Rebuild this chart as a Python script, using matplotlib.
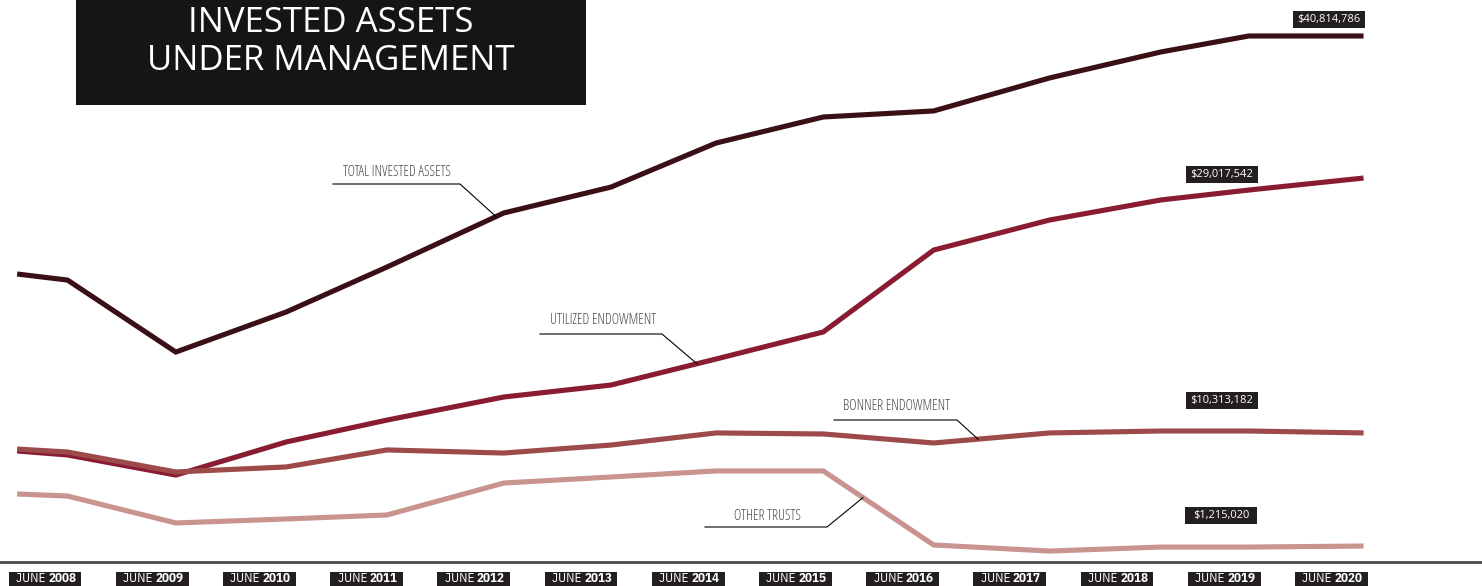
import os
import numpy as np
import matplotlib
matplotlib.use("Agg")
import matplotlib.pyplot as plt
from matplotlib.patches import Rectangle
from matplotlib import font_manager as fm
from matplotlib.font_manager import FontProperties

# ---------------- data (millions of dollars) ----------------
x_years = [2007.74, 2008.21, 2009.22, 2010.25, 2011.19, 2012.28, 2013.28,
           2014.26, 2015.26, 2016.29, 2017.37, 2018.41, 2019.23, 2020.30]
total_invested = [22.36, 21.89, 16.30, 19.41, 22.90, 27.10, 29.11,
                  32.53, 34.55, 35.02, 37.58, 39.60, 40.84, 40.84]
utilized_endowment = [8.62, 8.31, 6.75, 9.32, 11.02, 12.81, 13.74,
                      15.76, 17.86, 24.22, 26.55, 28.11, 28.88, 29.81]
bonner_endowment = [8.77, 8.54, 6.99, 7.38, 8.70, 8.46, 9.08,
                    10.02, 9.94, 9.24, 10.02, 10.17, 10.17, 10.02]
other_trusts = [5.28, 5.12, 3.03, 3.34, 3.65, 6.13, 6.60,
                7.07, 7.07, 1.32, 0.85, 1.16, 1.16, 1.24]
tick_years = [2008, 2009, 2010, 2011, 2012, 2013, 2014,
              2015, 2016, 2017, 2018, 2019, 2020]
series_names = ["TOTAL INVESTED ASSETS", "UTILIZED ENDOWMENT",
                "BONNER ENDOWMENT", "OTHER TRUSTS"]
end_labels = ["$40,814,786", "$29,017,542", "$10,313,182", "$1,215,020"]
title_lines = ["INVESTED ASSETS", "UNDER MANAGEMENT"]

# ---------------- fonts ----------------
_paths = {os.path.basename(f.fname): f.fname for f in fm.fontManager.ttflist}


def font(size, *files, family="DejaVu Sans", weight="normal"):
    for n in files:
        if n in _paths:
            p = FontProperties(fname=_paths[n])
            p.set_size(size)
            return p
    return FontProperties(family=family, weight=weight, size=size)


f_ann = font(10.2, "OpenSans-CondLight.ttf", "IBMPlexSansCondensed-Light.ttf",
             "IBMPlexSansCondensed-Regular.ttf")
f_tick = font(9.4, "IBMPlexSansCondensed-Regular.ttf", "OpenSans-CondLight.ttf")
f_tick_b = font(9.4, "IBMPlexSansCondensed-Bold.ttf", "OpenSans-CondBold.ttf",
                weight="bold")
f_val = font(8.0, "OpenSans-Regular.ttf", "OpenSans[wdth,wght].ttf")
f_title = font(25, "OpenSans-Regular.ttf", "OpenSans[wdth,wght].ttf")

# ---------------- styling ----------------
colors = ["#3a1016", "#8a1c32", "#9d4a4b", "#c9938f"]
W, H = 1482, 586

fig = plt.figure(figsize=(W / 100, H / 100), dpi=100)
ax = fig.add_axes([0, 0, 1, 1])
ax.set_axis_off()

# pixel <-> data mapping for layout
px_per_year = 107.2
x0_year = 2008 - 45 / px_per_year
px_per_m = 12.88
y_zero_px = 562.0
ax.set_xlim(x0_year, x0_year + W / px_per_year)
ax.set_ylim((y_zero_px - H) / px_per_m, y_zero_px / px_per_m)


def PX(px):
    return x0_year + px / px_per_year


def PY(py):
    return (y_zero_px - py) / px_per_m


series = [total_invested, utilized_endowment, bonner_endowment, other_trusts]
for vals, c in zip(series, colors):
    ax.plot(x_years, vals, color=c, lw=3.7, solid_joinstyle="miter",
            solid_capstyle="butt", zorder=3)

# baseline
ax.axhline(0, color="#4a4a4a", lw=2.0, zorder=2)

# x tick label boxes
bw = 73 / px_per_year
for yr in tick_years:
    ax.add_patch(Rectangle((yr - bw / 2, PY(587)), bw, PY(572) - PY(587),
                           facecolor="#231f20", edgecolor="none", zorder=4))
    ax.text(yr + 0.03, PY(579), "JUNE ", ha="right", va="center",
            color="white", fontproperties=f_tick, zorder=5)
    ax.text(yr + 0.03, PY(579), str(yr), ha="left", va="center",
            color="white", fontproperties=f_tick_b, zorder=5)

# end value labels
label_pos = [(1329, 19.5), (1222, 174.5), (1222, 400), (1221, 515.5)]
for (cx, cy), txt in zip(label_pos, end_labels):
    ax.add_patch(Rectangle((PX(cx - 36), PY(cy + 8.5)), 72 / px_per_year,
                           17 / px_per_m, facecolor="#231f20",
                           edgecolor="none", zorder=4))
    ax.text(PX(cx), PY(cy), txt, ha="center", va="center", color="white",
            fontproperties=f_val, zorder=5)

# annotations with leader lines: (text center x, text y, underline x0, x1, y, end x)
ann = [(397, 172, 333, 460, 184, 496),
       (603, 321, 540, 662, 334, 697),
       (896, 407, 834, 957, 420, 978),
       (767, 517, 705, 827, 527, 863)]
for (tx, ty, ux0, ux1, uy, ex), name, vals in zip(ann, series_names, series):
    ax.text(PX(tx), PY(ty), name, ha="center", va="center", color="#4a4a4a",
            fontproperties=f_ann, zorder=5)
    ey = np.interp(PX(ex), x_years, vals)
    ax.plot([PX(ux0), PX(ux1), PX(ex)], [PY(uy), PY(uy), ey],
            color="black", lw=0.8, zorder=4)

# title block
ax.add_patch(Rectangle((PX(76), PY(105)), 510 / px_per_year, 105 / px_per_m,
                       facecolor="#151515", edgecolor="none", zorder=4))
for i, line in enumerate(title_lines):
    ax.text(PX(331), PY(32 + 38 * i), line, ha="center", va="baseline",
            color="white", fontproperties=f_title, zorder=5)

fig.savefig("out.png", dpi=100)
